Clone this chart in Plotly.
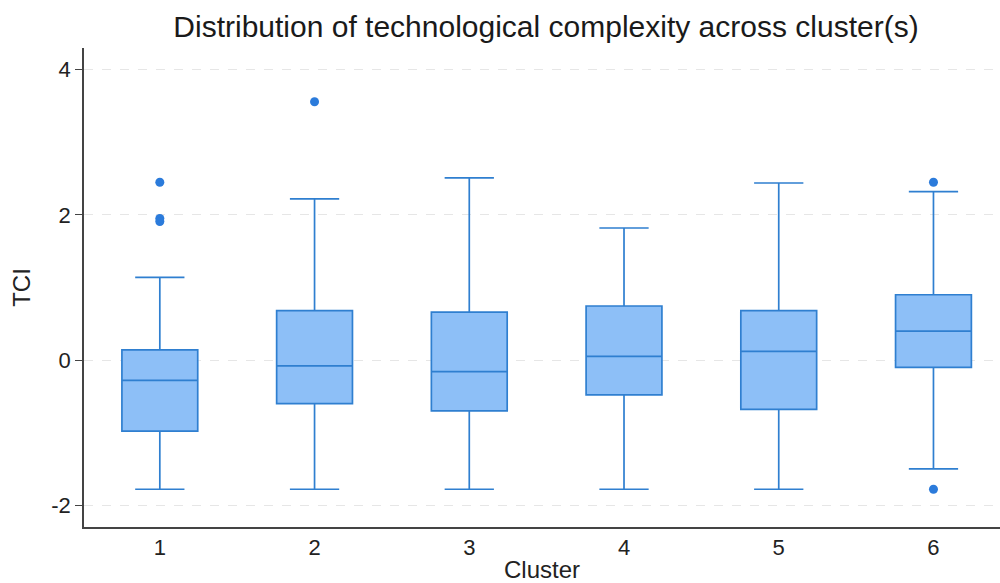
import plotly.graph_objects as go

# Five-number summaries of TCI per cluster
clusters = [1, 2, 3, 4, 5, 6]
lower_whisker = [-1.78, -1.78, -1.78, -1.78, -1.78, -1.50]
q1 = [-0.98, -0.60, -0.70, -0.48, -0.68, -0.10]
median = [-0.28, -0.08, -0.16, 0.05, 0.12, 0.40]
q3 = [0.14, 0.68, 0.66, 0.745, 0.68, 0.90]
upper_whisker = [1.14, 2.22, 2.51, 1.82, 2.44, 2.32]

# Outside values
outlier_cluster = [1, 1, 1, 2, 6, 6]
outlier_tci = [2.45, 1.95, 1.91, 3.56, 2.45, -1.78]

tick_vals = [-2, 0, 2, 4]

LINE = "#2f7fd0"
FILL = "#8dbff7"
DOT = "#2b7bdb"
FONT = "Liberation Sans, Arial, sans-serif"

fig = go.Figure()
fig.add_trace(go.Box(
    x=clusters,
    q1=q1,
    median=median,
    q3=q3,
    lowerfence=lower_whisker,
    upperfence=upper_whisker,
    width=0.49,
    whiskerwidth=0.65,
    fillcolor=FILL,
    line=dict(color=LINE, width=1.7),
    boxpoints=False,
    showlegend=False,
))
fig.add_trace(go.Scatter(
    x=outlier_cluster,
    y=outlier_tci,
    mode="markers",
    marker=dict(color=DOT, size=9),
    showlegend=False,
))

fig.update_layout(
    width=1000,
    height=583,
    margin=dict(l=84, r=0, t=48, b=56),
    paper_bgcolor="white",
    plot_bgcolor="white",
    font=dict(family=FONT, color="#222222"),
    title=dict(
        text="Distribution of technological complexity across cluster(s)",
        x=0.546, xanchor="center",
        y=1 - 26 / 583, yanchor="middle", yref="container",
        font=dict(size=30, color="#1a1a1a"),
    ),
)
fig.update_xaxes(
    range=[0.51, 6.43],
    tickvals=clusters,
    ticktext=[str(c) for c in clusters],
    showgrid=False,
    zeroline=False,
    showline=True,
    linecolor="#444444",
    linewidth=1.5,
    ticks="",
    tickfont=dict(size=22),
    title=dict(text="Cluster", font=dict(size=24), standoff=6),
)
fig.update_yaxes(
    range=[-2.3, 4.3],
    tickvals=tick_vals,
    ticktext=[str(v) for v in tick_vals],
    showgrid=True,
    gridcolor="#e6e6e6",
    griddash="dash",
    gridwidth=1,
    zeroline=False,
    showline=True,
    linecolor="#444444",
    linewidth=1.5,
    ticks="outside",
    ticklen=7,
    tickcolor="#444444",
    tickfont=dict(size=22),
    title=dict(text="TCI", font=dict(size=24), standoff=14),
)

fig.write_html("out.html")
